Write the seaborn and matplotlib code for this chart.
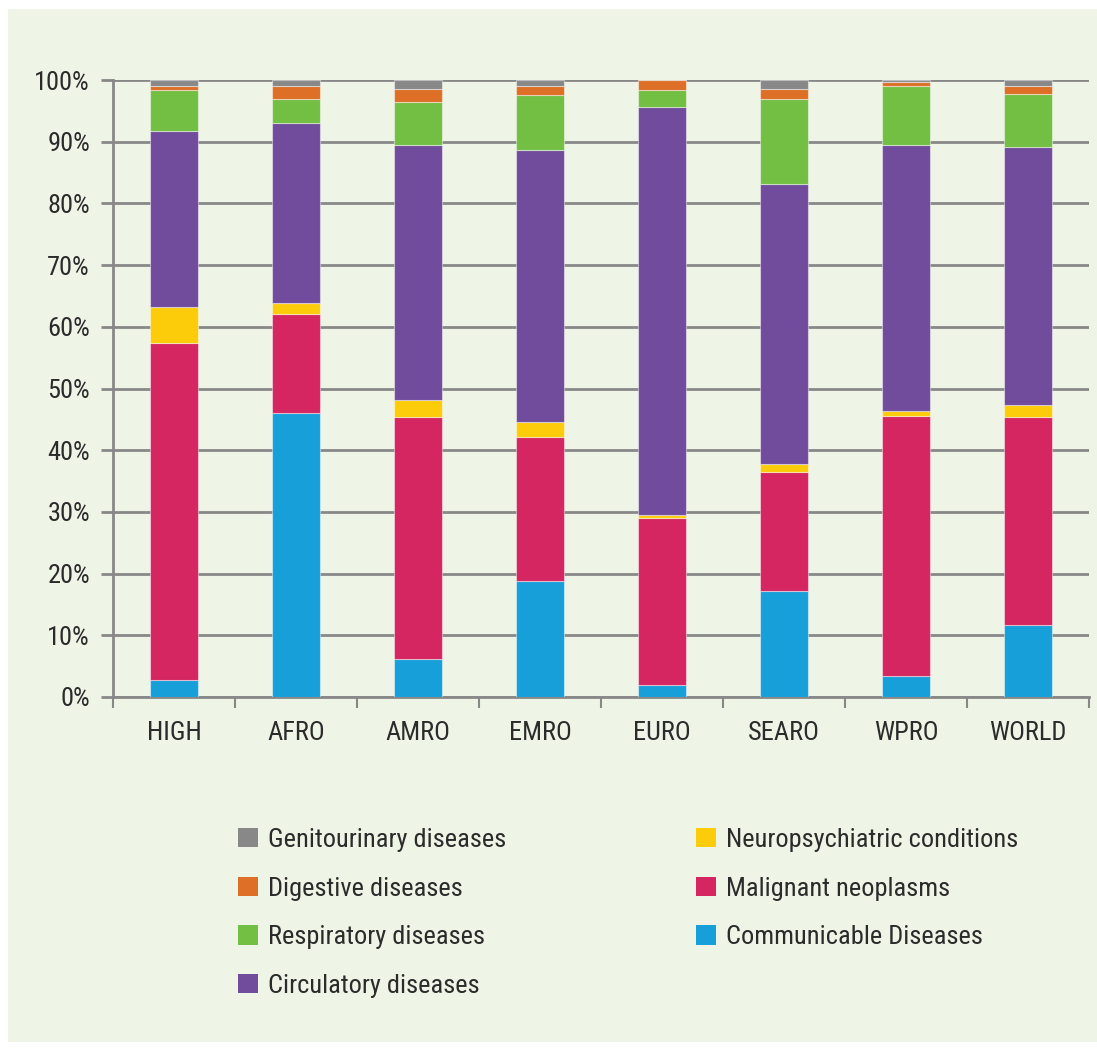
import matplotlib
matplotlib.use("Agg")
import matplotlib.pyplot as plt
import seaborn as sns
import pandas as pd
import numpy as np
from matplotlib.patches import Rectangle, Patch
from matplotlib.ticker import FuncFormatter

regions = ["HIGH", "AFRO", "AMRO", "EMRO", "EURO", "SEARO", "WPRO", "WORLD"]

# stack order bottom -> top
communicable = [2.8, 46.0, 6.2, 18.8, 2.0, 17.2, 3.4, 11.6]
malignant = [54.6, 16.0, 39.2, 23.4, 27.0, 19.2, 42.1, 33.7]
neuropsychiatric = [5.8, 1.9, 2.7, 2.4, 0.5, 1.4, 0.9, 2.1]
circulatory = [28.5, 29.1, 41.4, 44.1, 66.2, 45.3, 43.0, 41.8]
respiratory = [6.6, 3.9, 6.9, 8.9, 2.6, 13.9, 9.7, 8.6]
digestive = [0.8, 2.2, 2.1, 1.4, 1.7, 1.6, 0.5, 1.3]
genitourinary = [0.9, 0.9, 1.5, 1.0, 0.0, 1.4, 0.4, 0.9]

series_names = ["Communicable Diseases", "Malignant neoplasms", "Neuropsychiatric conditions",
                "Circulatory diseases", "Respiratory diseases", "Digestive diseases",
                "Genitourinary diseases"]
series_values = [communicable, malignant, neuropsychiatric, circulatory,
                 respiratory, digestive, genitourinary]
colors = {
    "Communicable Diseases": "#179FDA",
    "Malignant neoplasms": "#D52662",
    "Neuropsychiatric conditions": "#FCCC0A",
    "Circulatory diseases": "#714C9D",
    "Respiratory diseases": "#72BF44",
    "Digestive diseases": "#DD6F27",
    "Genitourinary diseases": "#888888",
}

rows = []
for name, vals in zip(series_names, series_values):
    for r, v in zip(regions, vals):
        rows.append({"region": r, "series": name, "value": v})
df = pd.DataFrame(rows)

sns.set_theme(style="white")
fam = ["Roboto Condensed", "Roboto", "DejaVu Sans"]
plt.rcParams["font.family"] = fam

FS = 19
TXT = "#2b2b2b"
BG = "#EEF4E6"
fig = plt.figure(figsize=(10.97, 10.51), dpi=100, facecolor="white")
bgrect = Rectangle((8 / 1097, 9 / 1051), 1 - 8 / 1097, 1 - 18 / 1051,
                   transform=fig.transFigure, facecolor=BG, edgecolor="none", zorder=-10)
fig.patches.append(bgrect)
ax = fig.add_axes([113 / 1097, 354 / 1051, 976 / 1097, 617 / 1051])
ax.set_zorder(1)
ax.set_facecolor(BG)

bottom = np.zeros(len(regions))
for name, vals in zip(series_names, series_values):
    sub = df[df["series"] == name]
    sns.barplot(data=sub, x="region", y="value", order=regions, color=colors[name],
                bottom=bottom, width=0.39, saturation=1, ax=ax,
                edgecolor=(1, 1, 1, 0.45), linewidth=0.8, zorder=3)
    bottom = bottom + np.array(vals)

ax.set_xlim(-0.5, len(regions) - 0.5)
ax.set_ylim(0, 100)
ax.set_yticks(np.arange(0, 101, 10))
ax.yaxis.set_major_formatter(FuncFormatter(lambda v, p: f"{int(v)}%"))
ax.yaxis.grid(True, color="#888888", linewidth=2, zorder=1)
ax.set_axisbelow(True)
for s in ["top", "right"]:
    ax.spines[s].set_visible(False)
ax.spines["left"].set_color("#888888")
ax.spines["left"].set_linewidth(2)
ax.spines["bottom"].set_color("#888888")
ax.spines["bottom"].set_linewidth(2)
ax.set_xlabel("")
ax.set_ylabel("")

# x ticks at category boundaries, labels at centers
ax.set_xticks(np.arange(-0.5, len(regions), 1.0))
ax.set_xticklabels([])
ax.set_xticks(np.arange(len(regions)), minor=True)
ax.set_xticklabels(regions, minor=True)
ax.tick_params(axis="x", which="major", length=8, width=1.5, color="#888888",
               direction="out", bottom=True)
ax.tick_params(axis="x", which="minor", length=0, pad=17, labelsize=FS, labelcolor=TXT)
ax.tick_params(axis="y", which="major", length=8.6, width=2, color="#888888",
               direction="out", labelsize=FS, labelcolor=TXT, pad=8, left=True)

def handles(names):
    return [Patch(facecolor=colors[n], edgecolor="none", label=n) for n in names]

leg_kw = dict(frameon=False, fontsize=FS, handlelength=0.75, handleheight=0.75,
              handletextpad=0.4, labelspacing=0.93, borderpad=0, borderaxespad=0,
              labelcolor=TXT)
l1 = fig.legend(handles=handles(["Genitourinary diseases", "Digestive diseases",
                                 "Respiratory diseases", "Circulatory diseases"]),
                loc="upper left", bbox_to_anchor=(238 / 1097, 1 - 828 / 1051), **leg_kw)
l2 = fig.legend(handles=handles(["Neuropsychiatric conditions", "Malignant neoplasms",
                                 "Communicable Diseases"]),
                loc="upper left", bbox_to_anchor=(696 / 1097, 1 - 828 / 1051), **leg_kw)

fig.savefig("out.png", dpi=100, facecolor="white")
